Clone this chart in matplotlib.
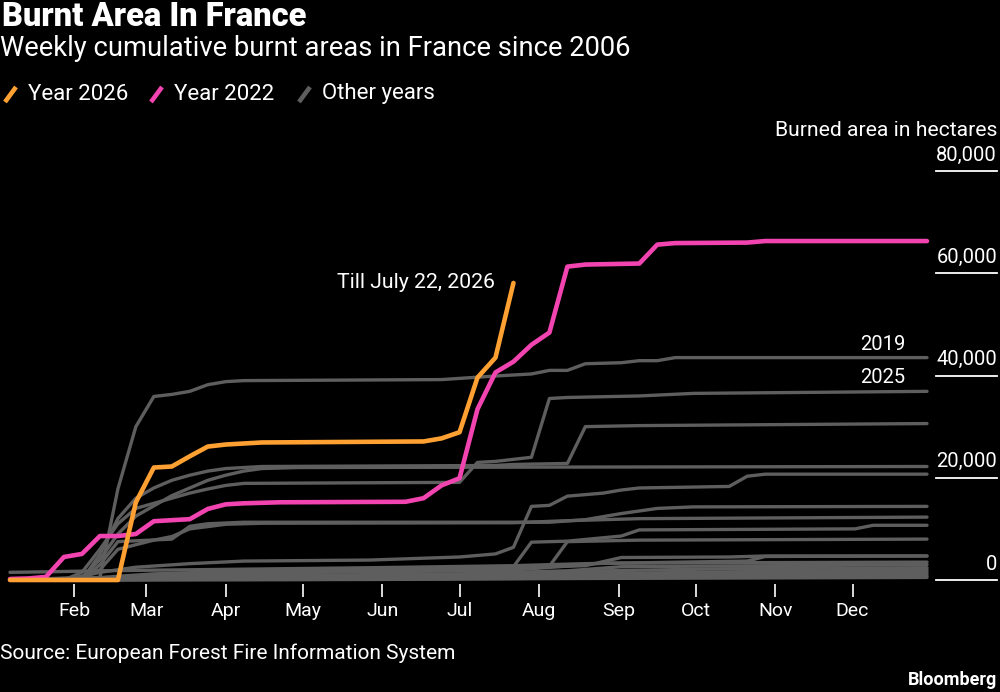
import numpy as np
import matplotlib
matplotlib.use('Agg')
import matplotlib.pyplot as plt
from matplotlib import transforms
from matplotlib.lines import Line2D

# ---------------- data (week index, burnt hectares) ----------------
# week 0 = first week of January, points are cumulative totals
months = ['Feb', 'Mar', 'Apr', 'May', 'Jun', 'Jul', 'Aug', 'Sep', 'Oct', 'Nov', 'Dec']
month_days = [31, 59, 90, 120, 151, 181, 212, 243, 273, 304, 334]

y_ticks = [0, 20000, 40000, 60000, 80000]

# Year 2026 (till July 22)
wk_2026 = [0, 6, 7, 8, 9, 10, 11, 12, 14, 23, 24, 25, 26, 27, 28]
ha_2026 = [0, 0, 15200, 22000, 22200, 24200, 26100, 26500, 26900, 27100, 27700, 28900, 39600, 43500, 58100]

# Year 2022
wk_2022 = [0, 1, 2, 3, 4, 5, 6, 7, 8, 9, 10, 11, 12, 13, 15, 22, 23, 24, 25, 26, 27, 28, 29, 30,
           31, 32, 35, 36, 37, 41, 42, 51]
ha_2022 = [200, 300, 600, 4500, 5100, 8600, 8600, 9000, 11500, 11700, 11900, 13900, 14800, 15000,
           15200, 15300, 16000, 18500, 19900, 33400, 40600, 42700, 46000, 48400,
           61300, 61700, 61900, 65600, 65900, 66000, 66300, 66300]

# other years, (week, hectares) vertices
grey_2019 = [(0, 0), (5, 500), (6, 17800), (7, 30000), (8, 35900), (9, 36300), (10, 36900), (11, 38200),
             (12, 38800), (13, 39000), (24, 39200), (27, 39900), (29, 40300), (30, 41000), (31, 41000),
             (32, 42300), (34, 42500), (35, 42900), (36, 42900), (37, 43500), (51, 43500)]
grey_2025 = [(0, 0), (3, 0), (4, 1500), (5, 6000), (6, 11000), (7, 14000), (8, 15000), (9, 16000),
             (10, 17000), (11, 17800), (12, 18500), (13, 18900), (25, 19100), (26, 23000), (27, 23200),
             (28, 23600), (29, 24000), (30, 35500), (31, 35700), (35, 36000), (38, 36500), (51, 36900)]
grey_c = [(0, 0), (4, 0), (5, 5000), (6, 12000), (7, 16000), (8, 18000), (9, 19500), (10, 20500),
          (11, 21300), (12, 21800), (14, 22200), (27, 22400), (28, 22600), (31, 22800), (32, 30000),
          (35, 30200), (51, 30600)]
grey_d = [(0, 0), (4, 500), (5, 4000), (6, 9000), (7, 12500), (8, 14500), (9, 16500), (10, 18000),
          (11, 19500), (12, 20500), (13, 21300), (14, 21800), (16, 22000), (51, 22200)]
grey_e = [(0, 0), (3, 0), (5, 1500), (7, 2500), (10, 3200), (13, 3700), (20, 3900), (25, 4500),
          (27, 5100), (28, 6400), (29, 14400), (30, 14600), (31, 16400), (33, 17000), (34, 17600),
          (35, 18000), (40, 18300), (41, 20300), (42, 20700), (51, 20700)]
grey_f = [(0, 0), (4, 0), (5, 3000), (6, 7500), (9, 8000), (10, 10500), (11, 11000), (13, 11300),
          (30, 11300), (32, 11800), (34, 13000), (36, 14000), (38, 14300), (51, 14400)]
grey_g = [(0, 0), (4, 200), (5, 2000), (6, 6000), (8, 7800), (9, 8500), (10, 10000), (12, 10900),
          (14, 11100), (28, 11200), (31, 11600), (35, 12000), (51, 12300)]
grey_h = [(0, 0), (3, 0), (8, 1200), (15, 2000), (28, 2600), (29, 7400), (31, 7600), (34, 8600),
          (35, 9800), (47, 10000), (48, 10700), (51, 10700)]
grey_i = [(0, 0), (6, 0), (9, 800), (16, 1500), (28, 2200), (30, 2700), (31, 7500), (35, 7800), (51, 8000)]
grey_j = [(0, 0), (5, 300), (10, 1000), (16, 1500), (25, 2000), (32, 2800), (34, 4400), (40, 4500),
          (41, 4600), (42, 4700), (51, 4700)]
grey_k = [(0, 1500), (2, 1600), (5, 1800), (10, 2000), (20, 2400), (28, 2800), (32, 3200), (41, 3700),
          (42, 4600), (51, 4700)]
grey_l = [(0, 0), (5, 200), (9, 1200), (14, 1500), (27, 1800), (29, 2200), (33, 3300), (51, 3500)]
grey_m = [(0, 0), (8, 300), (15, 900), (25, 1200), (31, 1800), (34, 2600), (51, 3000)]
grey_n = [(0, 0), (6, 200), (13, 700), (26, 1000), (33, 1800), (40, 2200), (51, 2400)]
grey_o = [(0, 0), (10, 300), (20, 600), (30, 1100), (40, 1600), (51, 2000)]
grey_p = [(0, 0), (8, 100), (18, 400), (29, 800), (36, 1200), (51, 1600)]
grey_q = [(0, 0), (12, 200), (24, 400), (32, 700), (51, 1200)]
grey_r = [(0, 0), (16, 100), (28, 300), (38, 600), (51, 800)]
grey_s = [(0, 0), (20, 100), (32, 300), (51, 500)]

greys = [grey_2019, grey_2025, grey_c, grey_d, grey_e, grey_f, grey_g, grey_h, grey_i, grey_j,
         grey_k, grey_l, grey_m, grey_n, grey_o, grey_p, grey_q, grey_r, grey_s]

# ---------------- style ----------------
ORANGE = '#ffa132'
PINK = '#f244b0'
GREY = '#5e5e5e'
BG = 'black'

plt.rcParams['font.family'] = ['Roboto', 'DejaVu Sans']
plt.rcParams['text.color'] = 'white'

W, H = 1000, 692


def fx(px):
    return px / W


def fy(py):
    return 1 - py / H


def week_to_day(w):
    return 6 + 7 * np.asarray(w)


fig = plt.figure(figsize=(W / 100, H / 100), dpi=100, facecolor=BG)

# axes placed so that day 6 sits at x=10px, 0 ha at y=580px, 80,000 ha at 171px
px_per_day = 917 / 357
px_per_ha = 409 / 80000
ax_left, ax_right, ax_top, ax_bottom = 0, 935, 160, 584
ax = fig.add_axes([fx(ax_left), fy(ax_bottom), fx(ax_right - ax_left), (ax_bottom - ax_top) / H])
ax.set_facecolor(BG)
ax.set_xlim(6 - 10 / px_per_day, 363 + (ax_right - 927) / px_per_day)
ax.set_ylim(-(ax_bottom - 580) / px_per_ha, 80000 + (171 - ax_top) / px_per_ha)

for g in greys:
    w, v = zip(*g)
    ax.plot(week_to_day(w), v, color=GREY, lw=2.4, solid_capstyle='round',
            solid_joinstyle='round', clip_on=False, zorder=2)

ax.plot(week_to_day(wk_2022), ha_2022, color=PINK, lw=3.3, solid_capstyle='round',
        solid_joinstyle='round', clip_on=False, zorder=3)
ax.plot(week_to_day(wk_2026), ha_2026, color=ORANGE, lw=3.3, solid_capstyle='round',
        solid_joinstyle='round', clip_on=False, zorder=4)

# annotations
ax.text(week_to_day(wk_2026[-1]) - 18 / px_per_day, ha_2026[-1], 'Till July 22, 2026',
        ha='right', va='center', fontsize=15.3, color='white')
ax.text(week_to_day(51) - 22 / px_per_day, grey_2019[-1][1] + 13 / px_per_ha, '2019',
        ha='right', va='center', fontsize=14.5, color='white')
ax.text(week_to_day(51) - 22 / px_per_day, grey_2025[-1][1] + 14 / px_per_ha, '2025',
        ha='right', va='center', fontsize=14.5, color='white')

# right value axis: labels above short white underlines
trans = transforms.blended_transform_factory(fig.transFigure, ax.transData)
for v in y_ticks:
    ax.plot([fx(936), fx(997)], [v, v], transform=trans, color='white', lw=1.3, clip_on=False)
    ax.text(fx(997), v + 16 / px_per_ha, f'{v:,}', transform=trans, ha='right', va='center',
            fontsize=14.5, color='white')
fig.text(fx(997), fy(130), 'Burned area in hectares', ha='right', va='center', fontsize=15.2)

ax.set_xticks(month_days)
ax.set_xticklabels(months)
ax.tick_params(axis='x', colors='white', length=9, width=1.2, pad=4, labelsize=14)
ax.set_yticks([])
for s in ax.spines.values():
    s.set_visible(False)

# title block
fig.text(fx(2), fy(17), 'Burnt Area In France', ha='left', va='center', fontsize=23.5,
         fontweight='heavy')
fig.text(fx(0), fy(48), 'Weekly cumulative burnt areas in France since 2006', ha='left',
         va='center', fontsize=19.7)

# legend
legend_items = [(ORANGE, 'Year 2026', 4), (PINK, 'Year 2022', 150), (GREY, 'Other years', 298)]
for col, lab, x0 in legend_items:
    fig.add_artist(Line2D([fx(x0 + 1), fx(x0 + 12)], [fy(102), fy(87)], color=col, lw=3.3,
                          solid_capstyle='butt'))
    fig.text(fx(x0 + 24), fy(94), lab, ha='left', va='center', fontsize=16)

fig.text(fx(0), fy(653), 'Source: European Forest Fire Information System', ha='left',
         va='center', fontsize=15)
fig.text(fx(997), fy(680), 'Bloomberg', ha='right', va='center', fontsize=13, fontweight='bold')

fig.savefig('out.png', dpi=100, facecolor=BG)
